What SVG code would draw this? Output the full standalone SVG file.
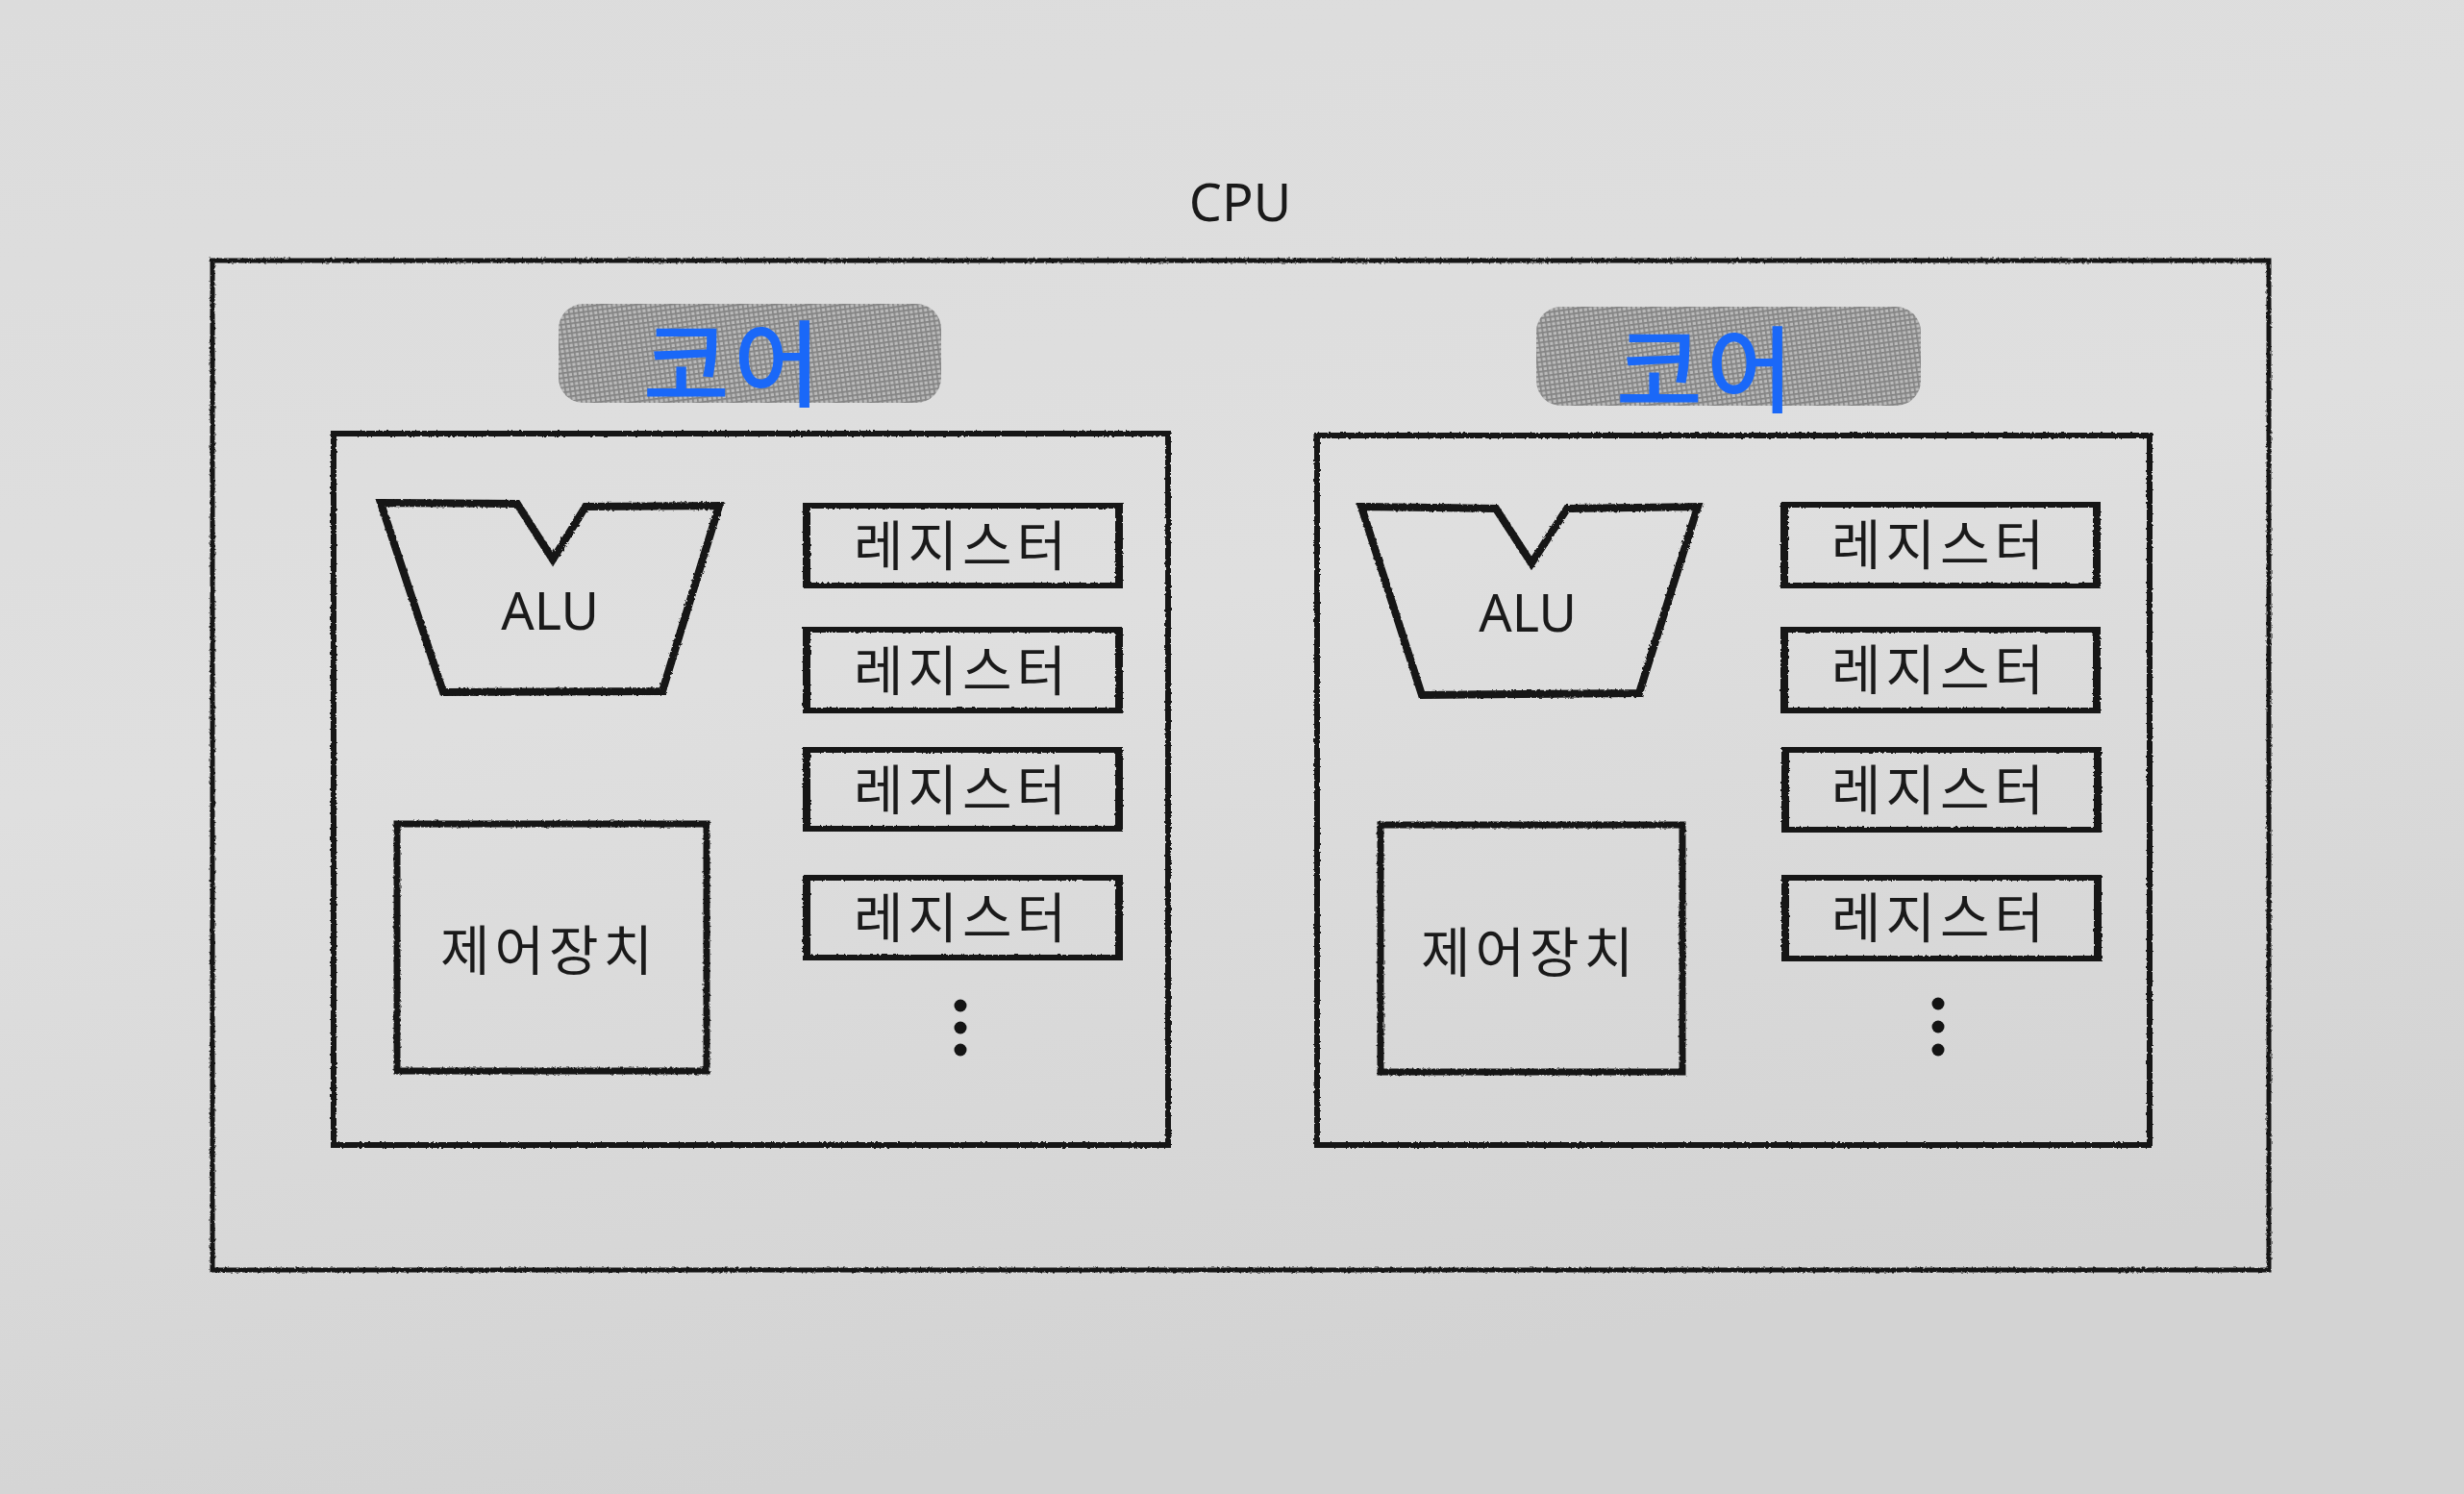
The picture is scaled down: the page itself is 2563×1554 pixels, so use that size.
<svg xmlns="http://www.w3.org/2000/svg" width="2563" height="1554" viewBox="0 0 2563 1554">
  <defs>
    <linearGradient id="bg" x1="0" y1="0" x2="0.3" y2="1">
      <stop offset="0" stop-color="#dcdcdc"/>
      <stop offset="0.5" stop-color="#dfdfdf"/>
      <stop offset="1" stop-color="#d3d3d3"/>
    </linearGradient>
    <pattern id="halftone" width="5" height="5" patternUnits="userSpaceOnUse" patternTransform="rotate(-8)">
      <rect width="5" height="5" fill="#bababa"/>
      <rect width="5" height="1.7" fill="#808080"/>
      <rect width="1.7" height="5" fill="#858585"/>
    </pattern>
    <filter id="rough" x="-2%" y="-2%" width="104%" height="104%">
      <feTurbulence type="fractalNoise" baseFrequency="0.35" numOctaves="2" seed="3" result="n"/>
      <feDisplacementMap in="SourceGraphic" in2="n" scale="3"/>
    </filter>
  </defs>
  <style>
    .box { fill: none; stroke: #141414; stroke-linejoin: miter; }
    .outer { stroke-width: 5; }
    .core { stroke-width: 6; }
    .reg { stroke-width: 8; }
    .alu { stroke-width: 8; }
    .ctrl { stroke-width: 7; }
    .pill { fill: url(#halftone); }
    .lbl { font-family: "Noto Sans CJK KR", "Noto Sans", sans-serif; fill: #1a1a1a; text-anchor: middle; dominant-baseline: central; }
    .kr { font-size: 56px; font-weight: 400; letter-spacing: 5px; }
    .en { font-family: "Noto Sans", "Liberation Sans", sans-serif; font-size: 54px; font-weight: 400; }
    .core-lbl { font-family: "Noto Sans CJK KR", sans-serif; font-size: 98px; font-weight: 500; fill: #1a68f8; text-anchor: middle; dominant-baseline: central; letter-spacing: 4px; }
    .dot { fill: #141414; }
  </style>

  <rect x="0" y="0" width="2563" height="1554" fill="url(#bg)"/>

  <g id="cpu">
    <text class="lbl en" x="1290" y="209">CPU</text>
    <rect class="box outer" x="221" y="271" width="2139" height="1050" filter="url(#rough)"/>
  </g>

  <g id="core-left">
    <rect class="pill" x="581" y="316" width="398" height="103" rx="26" ry="26"/>
    <text class="core-lbl" x="763" y="372">코어</text>
    <rect class="box core" x="347" y="451" width="868" height="740" filter="url(#rough)"/>
  </g>

  <g id="alu-left">
    <polygon class="box alu" points="396,523 538,524 575,582 609,527 748,526 689,719 461,720" filter="url(#rough)"/>
    <text class="lbl en" x="572" y="634">ALU</text>
  </g>

  <g id="ctrl-left">
    <rect class="box ctrl" x="413" y="857" width="322" height="257" filter="url(#rough)"/>
    <text class="lbl kr" x="571" y="984">제어장치</text>
  </g>

  <g id="reg-left-1">
    <rect class="box reg" x="839" y="525" width="325" height="85" filter="url(#rough)"/>
    <text class="lbl kr" x="1001" y="563">레지스터</text>
  </g>
  <g id="reg-left-2">
    <rect class="box reg" x="839" y="654" width="325" height="86" filter="url(#rough)"/>
    <text class="lbl kr" x="1001" y="693">레지스터</text>
  </g>
  <g id="reg-left-3">
    <rect class="box reg" x="839" y="779" width="325" height="84" filter="url(#rough)"/>
    <text class="lbl kr" x="1001" y="817">레지스터</text>
  </g>
  <g id="reg-left-4">
    <rect class="box reg" x="839" y="912" width="325" height="85" filter="url(#rough)"/>
    <text class="lbl kr" x="1001" y="950">레지스터</text>
  </g>
  <g id="more-left">
    <circle class="dot" cx="999" cy="1046" r="6.5"/>
    <circle class="dot" cx="999" cy="1069" r="6.5"/>
    <circle class="dot" cx="999" cy="1092" r="6.5"/>
  </g>

  <g id="core-right">
    <rect class="pill" x="1598" y="319" width="400" height="103" rx="26" ry="26"/>
    <text class="core-lbl" x="1775" y="378">코어</text>
    <rect class="box core" x="1370" y="453" width="866" height="738" filter="url(#rough)"/>
  </g>

  <g id="alu-right">
    <polygon class="box alu" points="1416,527 1556,529 1593,586 1630,529 1766,527 1705,721 1479,723" filter="url(#rough)"/>
    <text class="lbl en" x="1589" y="636">ALU</text>
  </g>

  <g id="ctrl-right">
    <rect class="box ctrl" x="1436" y="858" width="314" height="257" filter="url(#rough)"/>
    <text class="lbl kr" x="1591" y="986">제어장치</text>
  </g>

  <g id="reg-right-1">
    <rect class="box reg" x="1856" y="524" width="325" height="86" filter="url(#rough)"/>
    <text class="lbl kr" x="2018" y="562">레지스터</text>
  </g>
  <g id="reg-right-2">
    <rect class="box reg" x="1856" y="654" width="325" height="86" filter="url(#rough)"/>
    <text class="lbl kr" x="2018" y="692">레지스터</text>
  </g>
  <g id="reg-right-3">
    <rect class="box reg" x="1857" y="779" width="325" height="85" filter="url(#rough)"/>
    <text class="lbl kr" x="2018" y="817">레지스터</text>
  </g>
  <g id="reg-right-4">
    <rect class="box reg" x="1857" y="912" width="325" height="86" filter="url(#rough)"/>
    <text class="lbl kr" x="2018" y="950">레지스터</text>
  </g>
  <g id="more-right">
    <circle class="dot" cx="2016" cy="1044" r="6.5"/>
    <circle class="dot" cx="2016" cy="1068" r="6.5"/>
    <circle class="dot" cx="2016" cy="1092" r="6.5"/>
  </g>

  <g id="connectors"></g>
</svg>
